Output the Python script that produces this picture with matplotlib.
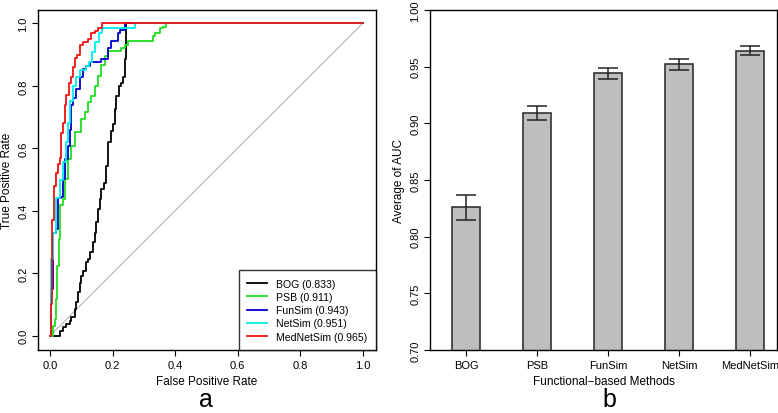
import matplotlib
matplotlib.use("Agg")
import matplotlib.pyplot as plt
import numpy as np

plt.rcParams['font.family'] = ['Liberation Sans', 'DejaVu Sans']

# ROC curves (FPR at each jump, TPR after it)
bog_fpr = [0, 0.026, 0.031, 0.042, 0.052, 0.063, 0.068, 0.079, 0.084, 0.090, 0.095, 0.100,
           0.106, 0.114, 0.122, 0.127, 0.136, 0.143, 0.148, 0.154, 0.159, 0.164, 0.172,
           0.178, 0.186, 0.194, 0.202, 0.207, 0.212, 0.221, 0.228, 0.234, 0.239, 0.242, 1.0]
bog_tpr = [0, 0, 0.016, 0.027, 0.037, 0.048, 0.059, 0.085, 0.107, 0.139, 0.170, 0.190,
           0.208, 0.235, 0.245, 0.267, 0.300, 0.330, 0.363, 0.405, 0.437, 0.470, 0.490,
           0.544, 0.620, 0.656, 0.678, 0.726, 0.768, 0.800, 0.810, 0.830, 0.886, 1.0, 1.0]

psb_fpr = [0, 0.010, 0.015, 0.020, 0.023, 0.028, 0.030, 0.042, 0.047, 0.058, 0.068, 0.079,
           0.100, 0.111, 0.122, 0.132, 0.143, 0.154, 0.164, 0.175, 0.186, 0.228, 0.239,
           0.250, 0.330, 0.335, 0.351, 0.362, 0.372, 1.0]
psb_tpr = [0, 0.032, 0.053, 0.117, 0.224, 0.310, 0.417, 0.438, 0.502, 0.566, 0.608, 0.651,
           0.694, 0.715, 0.747, 0.768, 0.800, 0.832, 0.866, 0.896, 0.912, 0.920, 0.930,
           0.945, 0.960, 0.970, 0.985, 0.990, 1.0, 1.0]

funsim_fpr = [0, 0.003, 0.010, 0.020, 0.026, 0.036, 0.042, 0.047, 0.058, 0.063, 0.068, 0.074,
              0.084, 0.095, 0.106, 0.116, 0.127, 0.164, 0.186, 0.196, 0.218, 0.223, 0.239, 1.0]
funsim_tpr = [0, 0.150, 0.330, 0.340, 0.440, 0.445, 0.502, 0.565, 0.608, 0.660, 0.740, 0.760,
              0.790, 0.830, 0.855, 0.865, 0.875, 0.885, 0.920, 0.945, 0.970, 0.980, 1.0, 1.0]

netsim_fpr = [0, 0.004, 0.010, 0.020, 0.031, 0.042, 0.052, 0.058, 0.065, 0.074, 0.084, 0.095,
              0.115, 0.125, 0.133, 0.145, 0.155, 0.165, 0.271, 1.0]
netsim_tpr = [0, 0.245, 0.330, 0.440, 0.500, 0.555, 0.620, 0.680, 0.750, 0.800, 0.830, 0.850,
              0.865, 0.875, 0.910, 0.940, 0.970, 0.985, 1.0, 1.0]

mednetsim_fpr = [0, 0.002, 0.005, 0.007, 0.013, 0.020, 0.026, 0.031, 0.036, 0.041, 0.047,
                 0.052, 0.060, 0.068, 0.074, 0.079, 0.087, 0.095, 0.106, 0.122, 0.132,
                 0.143, 0.154, 0.165, 1.0]
mednetsim_tpr = [0, 0.100, 0.170, 0.370, 0.480, 0.520, 0.550, 0.570, 0.650, 0.680, 0.740,
                 0.770, 0.810, 0.830, 0.860, 0.890, 0.900, 0.930, 0.940, 0.950, 0.970,
                 0.975, 0.985, 1.0, 1.0]

roc_names = ["BOG (0.833)", "PSB (0.911)", "FunSim (0.943)", "NetSim (0.951)", "MedNetSim (0.965)"]
roc_colors = ["black", "#22DD22", "#0000CC", "#00EEEE", "#EE1111"]

# bar chart
methods = ["BOG", "PSB", "FunSim", "NetSim", "MedNetSim"]
auc_mean = [0.826, 0.909, 0.944, 0.952, 0.964]
auc_err = [0.011, 0.006, 0.005, 0.005, 0.004]

fig = plt.figure(figsize=(7.78, 4.14), dpi=100)

# panel a
ax1 = fig.add_axes([0.0488, 0.1522, 0.4345, 0.8212])
curves = [(bog_fpr, bog_tpr), (psb_fpr, psb_tpr), (funsim_fpr, funsim_tpr),
          (netsim_fpr, netsim_tpr), (mednetsim_fpr, mednetsim_tpr)]
ax1.plot([0, 1], [0, 1], color="#BBBBBB", lw=0.9)
for (fx, ty), name, col in zip(curves, roc_names, roc_colors):
    ax1.plot(fx, ty, drawstyle="steps-post", color=col, lw=1.3, label=name)
ax1.set_xlim(-0.039, 1.043)
ax1.set_ylim(-0.046, 1.043)
ax1.set_xticks(np.arange(0, 1.01, 0.2))
ax1.set_yticks(np.arange(0, 1.01, 0.2))
ax1.set_xticklabels(["0.0", "0.2", "0.4", "0.6", "0.8", "1.0"])
ax1.set_yticklabels(["0.0", "0.2", "0.4", "0.6", "0.8", "1.0"], rotation=90, va="center")
ax1.set_xlabel("False Positive Rate", fontsize=8.5, labelpad=4)
ax1.set_ylabel("True Positive Rate", fontsize=8.5, labelpad=4)
ax1.tick_params(labelsize=8, length=4, width=0.8, pad=3)
leg = ax1.legend(loc="lower right", fontsize=7.6, frameon=True, fancybox=False,
                 borderaxespad=0, handlelength=1.9, handletextpad=0.85,
                 borderpad=0.8, labelspacing=0.3)
leg.get_frame().set_edgecolor("black")
leg.get_frame().set_linewidth(1.0)
for sp in ax1.spines.values():
    sp.set_linewidth(1.0)
fig.text(0.265, 0.016, "a", fontsize=18, ha="center", va="baseline")

# panel b
ax2 = fig.add_axes([0.5527, 0.1522, 0.446, 0.8212])
xpos = np.arange(len(methods))
ax2.bar(xpos, auc_mean, width=0.4, bottom=0, color="#BEBEBE", edgecolor="#333333", linewidth=1.2)
ax2.errorbar(xpos, auc_mean, yerr=auc_err, fmt="none", ecolor="#222222", elinewidth=1.1,
             capsize=7, capthick=1.1)
ax2.set_xlim(-0.51, 4.38)
ax2.set_ylim(0.70, 1.00)
ax2.set_xticks(xpos)
ax2.set_xticklabels(methods)
ax2.set_yticks(np.arange(0.70, 1.001, 0.05))
ax2.set_yticklabels(["0.70", "0.75", "0.80", "0.85", "0.90", "0.95", "1.00"], rotation=90, va="center")
ax2.set_xlabel("Functional\u2212based Methods", fontsize=8.5, labelpad=4)
ax2.set_ylabel("Average of AUC", fontsize=8.5, labelpad=4)
ax2.tick_params(labelsize=8, length=4, width=0.8, pad=3)
for sp in ax2.spines.values():
    sp.set_linewidth(1.0)
fig.text(0.783, 0.016, "b", fontsize=18, ha="center", va="baseline")

fig.savefig("out.png", dpi=100)
